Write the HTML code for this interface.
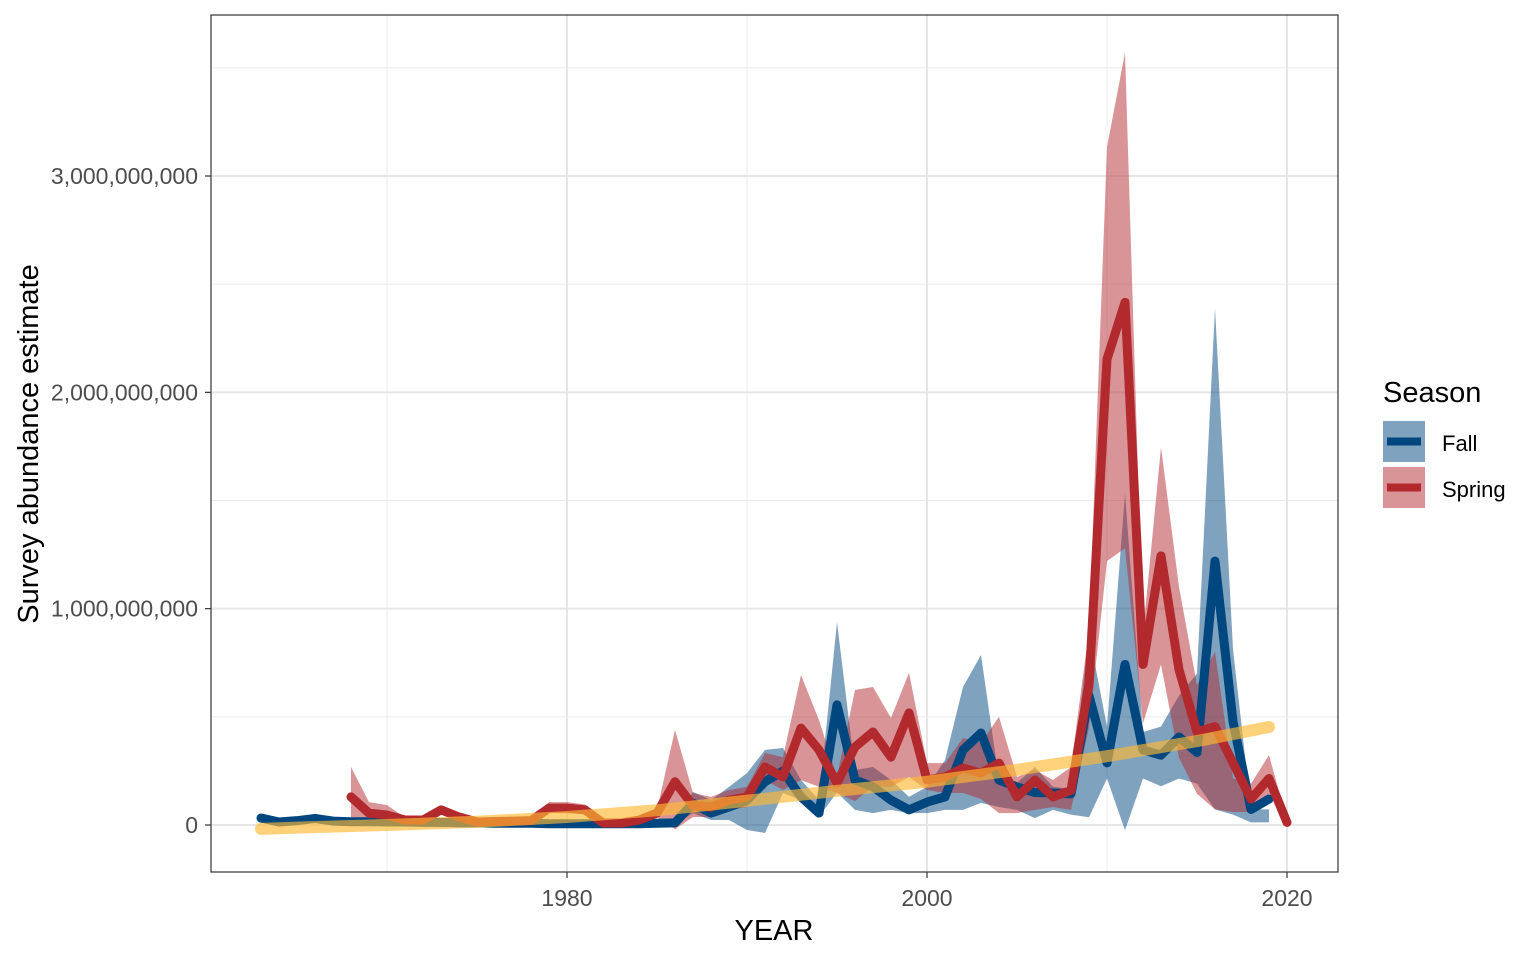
<!DOCTYPE html>
<html><head><meta charset="utf-8"><style>
body{margin:0;background:#fff;font-family:"Liberation Sans",Arial,sans-serif;}
svg text{font-family:"Liberation Sans",Arial,sans-serif;}
</style></head><body>
<svg id="chart" width="1536" height="960" xmlns="http://www.w3.org/2000/svg">
<rect width="1536" height="960" fill="#fff"/>
<g id="grid"></g>
<g id="marks"></g>
<rect x="211" y="15" width="1127" height="857" fill="none" stroke="#333" stroke-width="1.2"/>
<g id="axes"></g>
<text x="774" y="940" font-size="29" text-anchor="middle" fill="#000">YEAR</text>
<text transform="translate(38,444) rotate(-90)" font-size="29" text-anchor="middle" fill="#000">Survey abundance estimate</text>
<g>
<text x="1383" y="402" font-size="29" fill="#000">Season</text>
<g>
<rect x="1383" y="421" width="42" height="41" fill="rgba(0,70,127,0.5)"/>
<line x1="1387" y1="441.5" x2="1421" y2="441.5" stroke="#00467F" stroke-width="8"/>
<text x="1442" y="451" font-size="22" fill="#000">Fall</text></g>
<g>
<rect x="1383" y="467" width="42" height="41" fill="rgba(178,41,46,0.5)"/>
<line x1="1387" y1="487.5" x2="1421" y2="487.5" stroke="#B2292E" stroke-width="8"/>
<text x="1442" y="497" font-size="22" fill="#000">Spring</text></g>
</g>
</svg>
<script>
// values in millions
const fallYears = [1963,1964,1965,1966,1967,1968,1969,1970,1971,1972,1973,1974,1975,1976,1977,1978,1979,1980,1981,1982,1983,1984,1985,1986,1987,1988,1989,1990,1991,1992,1993,1994,1995,1996,1997,1998,1999,2000,2001,2002,2003,2004,2005,2006,2007,2008,2009,2010,2011,2012,2013,2014,2015,2016,2017,2018,2019];
const fallValues = [32,14,20,30,18,15,15,14,14,12,12,10,10,8,8,8,6,6,6,6,6,6,8,10,100,55,83,115,200,250,130,55,555,208,176,115,70,106,130,347,425,208,176,150,148,144,598,287,742,347,323,407,335,1220,478,72,120];
const fallUpper = [45,25,30,42,28,25,25,24,22,20,20,18,18,16,16,16,14,14,14,14,14,14,16,20,153,115,176,240,347,356,208,115,938,254,268,208,130,176,300,638,786,208,194,268,176,167,885,455,1531,430,455,598,700,2388,813,72,72];
const fallLower = [20,5,10,18,8,5,5,5,5,4,4,3,3,2,2,2,0,0,0,0,0,0,2,2,55,23,23,-23,-37,148,115,40,150,70,55,70,55,55,70,70,102,83,70,32,70,48,36,215,-24,215,179,215,191,72,48,12,12];
const springYears = [1968,1969,1970,1971,1972,1973,1974,1975,1976,1977,1978,1979,1980,1981,1982,1983,1984,1985,1986,1987,1988,1989,1990,1991,1992,1993,1994,1995,1996,1997,1998,1999,2000,2001,2002,2003,2004,2005,2006,2007,2008,2009,2010,2011,2012,2013,2014,2015,2016,2017,2018,2019,2020];
const springValues = [130,55,46,23,23,70,37,14,16,18,20,78,78,70,9,9,23,55,200,90,83,115,130,268,222,448,347,194,361,430,314,518,208,222,263,240,286,130,208,130,160,650,2153,2416,742,1244,718,430,455,287,120,215,12];
const springUpper = [268,106,92,35,35,85,50,25,28,30,32,106,106,95,20,20,35,70,439,148,130,162,176,333,314,693,485,222,624,638,495,703,286,286,402,380,500,222,254,208,268,900,3134,3569,885,1746,1100,646,800,215,191,323,20];
const springLower = [23,37,30,14,14,50,25,5,6,8,10,55,55,50,0,0,12,37,-20,37,37,70,83,208,162,208,176,148,110,180,176,222,162,148,148,120,55,55,70,83,70,450,1220,1280,470,742,311,144,72,60,60,144,5];
const trendYears = [1963,1965,1970,1975,1980,1985,1990,1995,2000,2005,2010,2015,2019];
const trendValues = [-18,-12,0,15,37,68,112,158,200,255,318,388,453];
const xTicks = [1980,2000,2020];
const yTicks = [0,1000,2000,3000];
const yTickLabels = ["0","1,000,000,000","2,000,000,000","3,000,000,000"];

const X = y => 567 + (y - 1980) * 18;
const Y = v => 825 - v * 0.21633;
const NS = "http://www.w3.org/2000/svg";
function mk(tag, parent, attrs){const e=document.createElementNS(NS,tag);for(const k in attrs)e.setAttribute(k,attrs[k]);parent.appendChild(e);return e;}
const grid=document.getElementById('grid'), marks=document.getElementById('marks'), axes=document.getElementById('axes');
[1970,1990,2010].forEach(t=>{const l=mk('line',grid,{x1:X(t),x2:X(t),y1:15,y2:872,stroke:'#ebebeb','stroke-width':1});

});
[500,1500,2500,3500].forEach(t=>{const l=mk('line',grid,{x1:211,x2:1338,y1:Y(t),y2:Y(t),stroke:'#ebebeb','stroke-width':1});

});
xTicks.forEach(t=>{const l=mk('line',grid,{x1:X(t),x2:X(t),y1:15,y2:872,stroke:'#e6e6e6','stroke-width':2});


const tk=mk('line',axes,{x1:X(t),x2:X(t),y1:872,y2:878,stroke:'#333','stroke-width':1.2});


const tx=mk('text',axes,{x:X(t),y:906,'font-size':23,'text-anchor':'middle',fill:'#4d4d4d'});tx.textContent=t;

});
yTicks.forEach((t,i)=>{const l=mk('line',grid,{x1:211,x2:1338,y1:Y(t),y2:Y(t),stroke:'#e6e6e6','stroke-width':2});


const tk=mk('line',axes,{x1:205,x2:211,y1:Y(t),y2:Y(t),stroke:'#333','stroke-width':1.2});


const tx=mk('text',axes,{x:198,y:Y(t)+8,'font-size':23,'text-anchor':'end',fill:'#4d4d4d'});tx.textContent=yTickLabels[i];

});
function band(years,up,lo,fill,name){let d='M'+years.map((y,i)=>X(y)+','+Y(up[i])).join('L');
for(let i=years.length-1;i>=0;i--)d+='L'+X(years[i])+','+Y(lo[i]);
const p=mk('path',marks,{d:d+'Z',fill:fill});

}
function line(years,vals,color,w,name,op){const p=mk('path',marks,{d:'M'+years.map((y,i)=>X(y)+','+Y(vals[i])).join('L'),fill:'none',stroke:color,'stroke-width':w,'stroke-linejoin':'round','stroke-linecap':'round','stroke-opacity':op||1});

}
band(fallYears,fallUpper,fallLower,'rgba(0,70,127,0.5)','fall-ci-band');
band(springYears,springUpper,springLower,'rgba(178,41,46,0.5)','spring-ci-band');
line(fallYears,fallValues,'#00467F',9,'fall-line');
line(springYears,springValues,'#B2292E',9,'spring-line');
line(trendYears,trendValues,'#FFB833',12,'trend-line',0.65);
</script>
</body></html>
